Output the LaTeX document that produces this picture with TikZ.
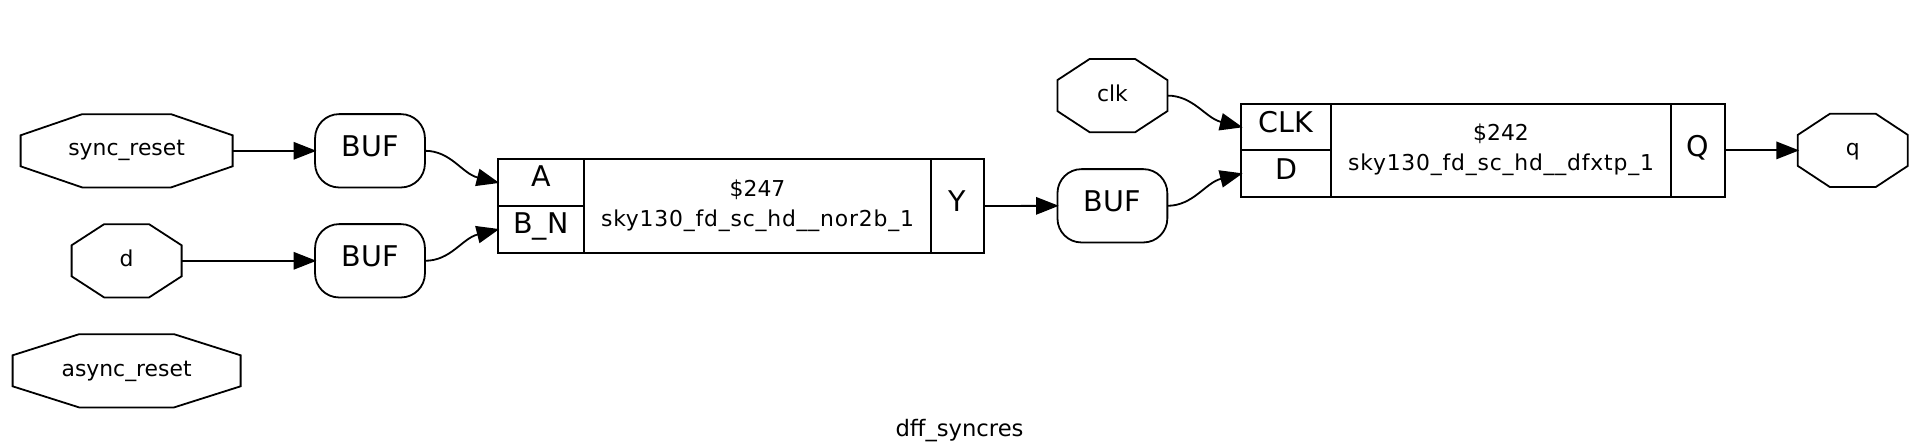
\documentclass[tikz,border=0pt]{standalone}
\usepackage{fontspec}
\setmainfont{DejaVu Sans}
\newfontfamily\spaced[LetterSpace=3.7]{DejaVu Sans}
\usetikzlibrary{arrows.meta}
\newcommand\smallsz{\fontsize{16.4pt}{20pt}\selectfont}
\newcommand\bigsz{\fontsize{21.4pt}{26pt}\selectfont}
\tikzset{
  x=0.75pt,y=-0.75pt,
  drop/.style={text height={2*#1*0.75pt},text depth=0pt},
  base/.style={inner sep=0pt,outer sep=0pt,text=black,drop=5},
  portlabel/.style={base,font=\smallsz},
  bufnode/.style={base,font=\bigsz,draw=black,line width=1.35pt,rounded corners=18pt,
     minimum width=82.4pt,minimum height=55pt},
  cellnode/.style={base,font=\bigsz,draw=black,line width=1.35pt},
  textline/.style={inner sep=0pt,outer sep=0pt,anchor=base,font=\smallsz,text=black},
  wire/.style={draw=black,line width=1.35pt,shorten >=-1pt,-{Triangle[length=17pt,width=13pt]}},
  octoline/.style={draw=black,line width=1.35pt,line join=miter}
}
% name, cx, cy, half width, half top width, text, extra style
\newcommand\octonode[7]{%
  \draw[octoline]
    ({#2-#5},{#3-36.6}) -- ({#2+#5},{#3-36.6}) -- ({#2+#4},{#3-15.5}) -- ({#2+#4},{#3+15.5})
    -- ({#2+#5},{#3+36.6}) -- ({#2-#5},{#3+36.6}) -- ({#2-#4},{#3+15.5}) -- ({#2-#4},{#3-15.5}) -- cycle;
  \node[portlabel,minimum width={2*#4*0.75pt},minimum height=55pt,#7] (#1) at (#2,#3) {#6};
}
\begin{document}
\begin{tikzpicture}
\useasboundingbox (0,0) rectangle (1919,442);

\octonode{syncreset}{126.6}{150.8}{106}{44.5}{sync\_reset}{drop=5.2}
\octonode{dport}{126.6}{260.8}{55}{22.5}{d}{drop=5.7}
\octonode{asyncreset}{126.6}{370.8}{114}{47.5}{async\_reset}{drop=5.5}
\octonode{clkport}{1112.4}{95.6}{55}{22.8}{clk}{drop=5.5}
\octonode{qport}{1852.8}{150.4}{55}{23}{q}{drop=5}

\node[bufnode,drop=6] (buf1) at (370,150.8) {BUF};
\node[bufnode,drop=6] (buf2) at (370,260.8) {BUF};
\node[bufnode,drop=6] (buf3) at (1112.4,205.8) {BUF};

% nor2b cell
\node[cellnode,drop=4.2,minimum width=64.5pt,minimum height=35pt] (pinA) at (541,182.6) {A};
\node[cellnode,drop=4.2,minimum width=64.5pt,minimum height=35pt] (pinBN) at (541,229.4) {B\_N};
\node[cellnode,minimum width=260.25pt,minimum height=70pt] (nor) at (757.5,206) {};
\node[cellnode,minimum width=39.75pt,minimum height=70pt] (pinY) at (957.5,206) {Y};
\node[textline] (norid) at (757.5,196) {\$247};
\node[textline] (norname) at (757.5,226.7) {\spaced sky130\_fd\_sc\_hd\_\_nor2b\_1};

% dfxtp cell
\node[cellnode,drop=5.7,minimum width=67pt,minimum height=35pt] (pinCLK) at (1286,127) {CLK};
\node[cellnode,drop=6.2,minimum width=67pt,minimum height=35pt] (pinD) at (1286,173.7) {D};
\node[cellnode,minimum width=255pt,minimum height=70pt] (dff) at (1501,150.4) {};
\node[cellnode,drop=6.5,minimum width=40pt,minimum height=70pt] (pinQ) at (1698,150.4) {Q};
\node[textline] (dffid) at (1501,141) {\$242};
\node[textline] (dffname) at (1501,171) {\spaced sky130\_fd\_sc\_hd\_\_dfxtp\_1};

\node[textline,font=\fontsize{17pt}{20pt}\selectfont] (title) at (959.5,436.7) {dff\_syncres};

% connectors
\draw[wire] (syncreset.east) -- (buf1.west);
\draw[wire] (dport.east) -- (buf2.west);
\draw[wire] (pinY.east) -- (buf3.west);
\draw[wire] (pinQ.east) -- (qport.west);
\draw[wire] (buf1.east) .. controls +(26,0) and +(-36,-9) .. (pinA.west);
\draw[wire] (buf2.east) .. controls +(26,0) and +(-36,9) .. (pinBN.west);
\draw[wire] (clkport.east) .. controls +(26,0) and +(-36,-9) .. (pinCLK.west);
\draw[wire] (buf3.east) .. controls +(26,0) and +(-36,9) .. (pinD.west);
\end{tikzpicture}
\end{document}
